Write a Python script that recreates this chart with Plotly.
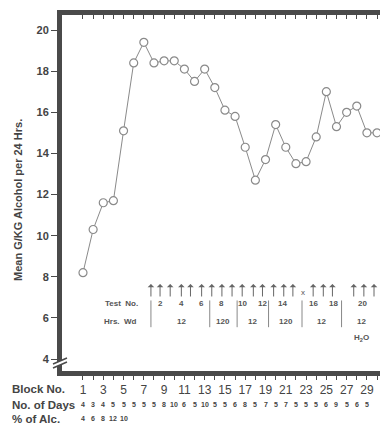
import plotly.graph_objects as go

# ---- data ----
blocks = list(range(1, 31))
mean_alcohol = [8.2, 10.3, 11.6, 11.7, 15.1, 18.4, 19.4, 18.4, 18.5, 18.5,
                18.1, 17.5, 18.1, 17.2, 16.1, 15.8, 14.3, 12.7, 13.7, 15.4,
                14.3, 13.5, 13.6, 14.8, 17.0, 15.3, 16.0, 16.3, 15.0, 15.0]
block_ticks = list(range(1, 30, 2))
days_blocks = list(range(1, 30))
days = [4, 3, 4, 5, 5, 5, 5, 5, 8, 10, 6, 5, 10, 5, 5, 6, 8, 5, 7, 5,
        7, 5, 5, 5, 6, 9, 5, 6, 5]
alc_blocks = [1, 2, 3, 4, 5]
alc_pct = [4, 6, 8, 12, 10]
y_ticks = [4, 6, 8, 10, 12, 14, 16, 18, 20]

arrow_pos = [7.7, 8.6, 9.6, 10.7, 11.6, 12.7, 13.7, 14.7, 15.7, 16.7, 17.8,
             18.7, 19.8, 20.8, 21.7, 23.7, 24.7, 25.6, 27.7, 28.7, 29.7]
x_mark_pos = 22.7
test_no = ["2", "4", "6", "8", "10", "12", "14", "16", "18", "20"]
test_pos = [8.6, 10.7, 12.7, 14.7, 16.7, 18.7, 20.7, 23.7, 25.7, 28.6]
hrs_wd = ["12", "120", "12", "120", "12", "12"]
hrs_pos = [10.7, 14.8, 17.7, 21.0, 24.5, 28.5]
separators = [7.7, 13.5, 16.2, 19.3, 22.6, 26.5]

# ---- geometry (page has an 8px body margin) ----
OFF = 8
W, H = 388 - OFF, 425 - OFF
ML, MR, MT, MB = 62 - OFF, 0, 15 - OFF, 54
PW, PH = W - ML - MR, H - MT - MB
XR = [-1.07, 31.08]
YR = [3.42, 20.73]

def py(Y):  # screen pixel y -> paper y
    return (H - MB - (Y - OFF)) / PH

def px(X):  # screen pixel x -> paper x
    return ((X - OFF) - ML) / PW

AX = "#4a4a4a"
TXT = "#444444"
FONT = "Liberation Sans, Arial, sans-serif"

fig = go.Figure()
fig.add_trace(go.Scatter(
    x=blocks, y=mean_alcohol, mode="lines+markers",
    line=dict(color="#8a8a8a", width=1),
    marker=dict(symbol="circle", size=8, color="white",
                line=dict(color="#8a8a8a", width=1.2)),
    showlegend=False, hoverinfo="skip"))
# dummy trace to activate top overlay axis
fig.add_trace(go.Scatter(x=[None], y=[None], xaxis="x2", yaxis="y",
                         showlegend=False, hoverinfo="skip"))

ann = []
for p in arrow_pos:
    ann.append(dict(x=p, y=7.65, ax=p, ay=6.97, xref="x", yref="y",
                    axref="x", ayref="y", text="", showarrow=True,
                    arrowhead=1, arrowsize=1.1, arrowwidth=1, arrowcolor="#666"))
ann.append(dict(x=x_mark_pos, y=7.25, xref="x", yref="y", text="x",
                showarrow=False, font=dict(size=8, color="#555", family=FONT)))
small = dict(size=8, color="#555", family=FONT, weight="bold")
ann.append(dict(x=2.95, y=6.68, xref="x", yref="y", text="Test&nbsp;&nbsp;No.",
                xanchor="left", showarrow=False, font=small))
ann.append(dict(x=2.85, y=5.85, xref="x", yref="y", text="Hrs.&nbsp;&nbsp;Wd",
                xanchor="left", showarrow=False, font=small))
for t, p in zip(test_no, test_pos):
    ann.append(dict(x=p, y=6.68, xref="x", yref="y", text=t, showarrow=False,
                    font=small))
for t, p in zip(hrs_wd, hrs_pos):
    ann.append(dict(x=p, y=5.85, xref="x", yref="y", text=t, showarrow=False,
                    font=small))
ann.append(dict(x=hrs_pos[-1], y=5.03, xref="x", yref="y", text="H<sub>2</sub>O",
                showarrow=False, font=small))

lab = dict(size=11.5, color=TXT, family=FONT, weight="bold")
for txt, Y in [("Block No.", 389), ("No. of Days", 405), ("% of Alc.", 419)]:
    ann.append(dict(x=px(10), y=py(Y), xref="paper", yref="paper", text=txt,
                    xanchor="left", yanchor="middle", showarrow=False, font=lab))
tiny = dict(size=7, color=TXT, family=FONT, weight="bold")
for b, d in zip(days_blocks, days):
    ann.append(dict(x=b, y=py(405), xref="x", yref="paper", text=str(d),
                    yanchor="middle", showarrow=False, font=tiny))
for b, a in zip(alc_blocks, alc_pct):
    ann.append(dict(x=b, y=py(419), xref="x", yref="paper", text=str(a),
                    yanchor="middle", showarrow=False, font=tiny))

ann.append(dict(x=px(18), y=py(200), xref="paper", yref="paper",
                xanchor="center", yanchor="middle",
                text="Mean G/KG Alcohol per 24 Hrs.", textangle=-90,
                showarrow=False, font=dict(size=11, color=TXT, family=FONT,
                                           weight="bold")))

shapes = []
for s in separators:
    shapes.append(dict(type="line", x0=s, x1=s, y0=5.55, y1=6.85, xref="x",
                       yref="y", line=dict(color="#888", width=1)))
shapes.append(dict(type="path", xref="paper", yref="paper",
                   path=f"M {px(53)} {py(364)} L {px(67)} {py(358)} L {px(67)} {py(362)} L {px(53)} {py(368)} Z",
                   fillcolor="white", line=dict(width=0), layer="above"))
shapes.append(dict(type="line", xref="paper", yref="paper", x0=px(53), y0=py(364),
                   x1=px(67), y1=py(358), line=dict(color=AX, width=1.5)))
shapes.append(dict(type="line", xref="paper", yref="paper", x0=px(53), y0=py(368),
                   x1=px(67), y1=py(362), line=dict(color=AX, width=1.5)))

fig.update_layout(
    width=W, height=H, margin=dict(l=ML, r=MR, t=MT, b=MB),
    paper_bgcolor="white", plot_bgcolor="white", showlegend=False,
    xaxis=dict(range=XR, tickmode="array", tickvals=block_ticks,
               ticktext=[str(b) for b in block_ticks], ticks="outside",
               ticklen=4, tickwidth=1, tickcolor=AX,
               minor=dict(tickmode="array", tickvals=blocks, ticks="outside",
                          ticklen=4, tickwidth=1, tickcolor=AX),
               showline=True, linewidth=5, linecolor=AX, showgrid=False,
               zeroline=False, tickfont=dict(size=12, color=TXT, family=FONT)),
    xaxis2=dict(overlaying="x", matches="x", side="top", anchor="y",
                range=XR, showline=True, linewidth=5, linecolor=AX,
                tickmode="array", tickvals=blocks, ticks="inside", ticklen=4,
                tickwidth=1, tickcolor=AX, showticklabels=False,
                showgrid=False, zeroline=False),
    yaxis=dict(range=YR, tickmode="array", tickvals=y_ticks, ticks="outside",
               ticklen=6, tickwidth=1, tickcolor=AX, showline=True,
               linewidth=5, linecolor=AX, showgrid=False, zeroline=False,
               tickfont=dict(size=11, color=TXT, family=FONT, weight="bold")),
    annotations=ann, shapes=shapes,
)

fig.write_html("out.html")
